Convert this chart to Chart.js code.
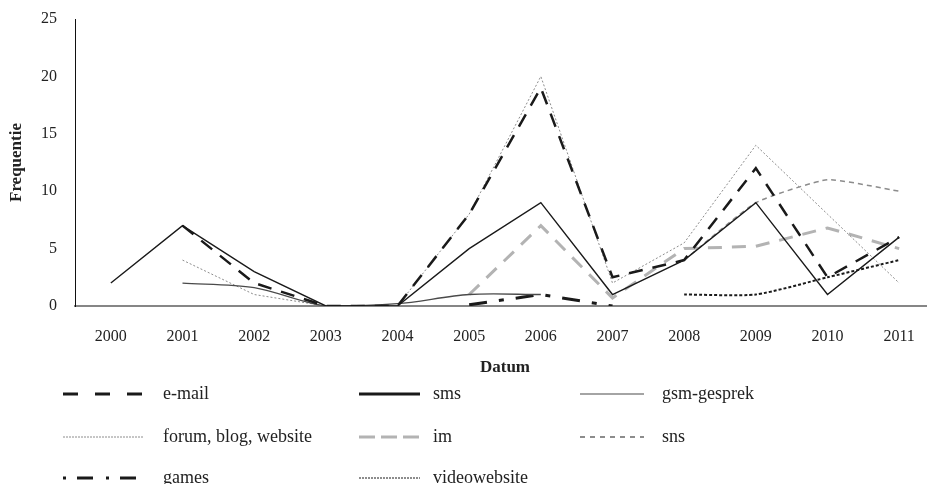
<!DOCTYPE html>
<html>
<head>
<meta charset="utf-8">
<script src="https://cdn.jsdelivr.net/npm/chart.js@4.4.0/dist/chart.umd.min.js"></script>
<style>
  html, body { margin: 0; padding: 0; background: #fff; overflow: hidden; }
  #wrap { width: 936px; height: 484px; }
</style>
</head>
<body>
<div id="wrap"><canvas id="myLineChart" width="936" height="484"></canvas></div>
<script>
var years = ["2000", "2001", "2002", "2003", "2004", "2005", "2006", "2007", "2008", "2009", "2010", "2011"];
var yTicks = [0, 5, 10, 15, 20, 25];

var emailValues = [null, 7, 2, 0, 0, 8, 19, 2.5, 4, 12, 2.5, 6];
var smsValues = [2, 7, 3, 0, 0, 5, 9, 1, 4, 9, 1, 6];
var gsmValues = [null, 2, 1.6, 0, 0.2, 1, 1, null, null, null, null, null];
var forumValues = [null, 4, 1, 0, 0, 8, 20, 2, 5.5, 14, 8, 2];
var imValues = [null, null, null, null, null, 1, 7, 0.7, 5, 5.2, 6.8, 5];
var snsValues = [null, null, null, null, null, null, null, null, 4, 9, 11, 10];
var gamesValues = [null, null, null, null, null, 0.1, 1, 0, null, null, null, null];
var videoValues = [null, null, null, null, null, null, null, null, 1, 1, 2.5, 4];

var serif = "'Liberation Serif', 'Times New Roman', serif";

// legend drawn by hand: 3 columns, 3 rows like the original
const legendPlugin = {
    id: 'custom_legend',
    afterDraw: (chart) => {
        const {ctx} = chart;
        const cols = [[63, 143, 163], [359, 420, 433], [580, 644, 662]];
        const rows = [394, 437, 478];
        ctx.save();
        chart.data.datasets.forEach((ds, i) => {
            const c = cols[i % 3];
            const y = rows[Math.floor(i / 3)];
            ctx.beginPath();
            ctx.strokeStyle = ds.borderColor;
            ctx.lineWidth = ds.legendWidth;
            ctx.setLineDash(ds.legendDash);
            ctx.moveTo(c[0], y);
            ctx.lineTo(c[1], y);
            ctx.stroke();
            ctx.setLineDash([]);
            ctx.fillStyle = '#222';
            ctx.font = "18px " + serif;
            ctx.textBaseline = 'middle';
            ctx.fillText(ds.label, c[2], y);
        });
        ctx.restore();
    }
};

new Chart("myLineChart", {
    type: "line",
    plugins: [legendPlugin],
    data: {
        labels: years,
        datasets: [
            { label: "e-mail", data: emailValues, borderColor: "#1a1a1a", borderWidth: 2.5, borderDash: [14, 10], legendWidth: 3, legendDash: [15, 17] },
            { label: "sms", data: smsValues, borderColor: "#1a1a1a", borderWidth: 1.4, borderDash: [], legendWidth: 3, legendDash: [] },
            { label: "gsm-gesprek", data: gsmValues, borderColor: "#4a4a4a", borderWidth: 1.3, borderDash: [], tension: 0.3, legendWidth: 1.2, legendDash: [] },
            { label: "forum, blog, website", data: forumValues, borderColor: "#8c8c8c", borderWidth: 1, borderDash: [2, 2], legendWidth: 1, legendDash: [2, 1] },
            { label: "im", data: imValues, borderColor: "#b3b3b3", borderWidth: 3, borderDash: [14, 10], tension: 0, legendWidth: 3, legendDash: [16, 6] },
            { label: "sns", data: snsValues, borderColor: "#8c8c8c", borderWidth: 1.5, borderDash: [5, 4], tension: 0.15, legendWidth: 2, legendDash: [5, 5] },
            { label: "games", data: gamesValues, borderColor: "#1a1a1a", borderWidth: 3, borderDash: [18, 12, 5, 12], legendWidth: 3, legendDash: [3, 11, 16, 13] },
            { label: "videowebsite", data: videoValues, borderColor: "#1a1a1a", borderWidth: 2, borderDash: [3, 2], tension: 0.2, legendWidth: 1, legendDash: [2, 1] }
        ]
    },
    options: {
        responsive: false,
        animation: false,
        spanGaps: false,
        elements: { point: { radius: 0 }, line: { fill: false } },
        layout: { padding: { left: 6, right: 1, top: 19, bottom: 104 } },
        plugins: {
            legend: { display: false },
            tooltip: { enabled: false }
        },
        scales: {
            x: {
                offset: true,
                afterFit: (axis) => { axis.height = 74; },
                grid: { display: false, drawTicks: false },
                border: { display: true, color: "#868686", width: 2 },
                ticks: { color: "#222", padding: 21, maxRotation: 0, font: { family: serif, size: 16 } },
                title: { display: true, text: "Datum", color: "#222", padding: { top: 10, bottom: 2 }, font: { family: serif, size: 17, weight: "bold" } }
            },
            y: {
                min: 0,
                max: 25,
                afterFit: (axis) => { axis.width = 69; axis.paddingTop = 0; },
                afterBuildTicks: (axis) => { axis.ticks = yTicks.map(v => ({ value: v })); },
                grid: { display: false, drawTicks: false },
                border: { display: true, color: "#111", width: 1 },
                ticks: { color: "#222", padding: 18, font: { family: serif, size: 16 } },
                title: { display: true, text: "Frequentie", color: "#222", padding: { top: 0, bottom: 13 }, font: { family: serif, size: 17, weight: "bold" } }
            }
        }
    }
});
</script>
</body>
</html>
